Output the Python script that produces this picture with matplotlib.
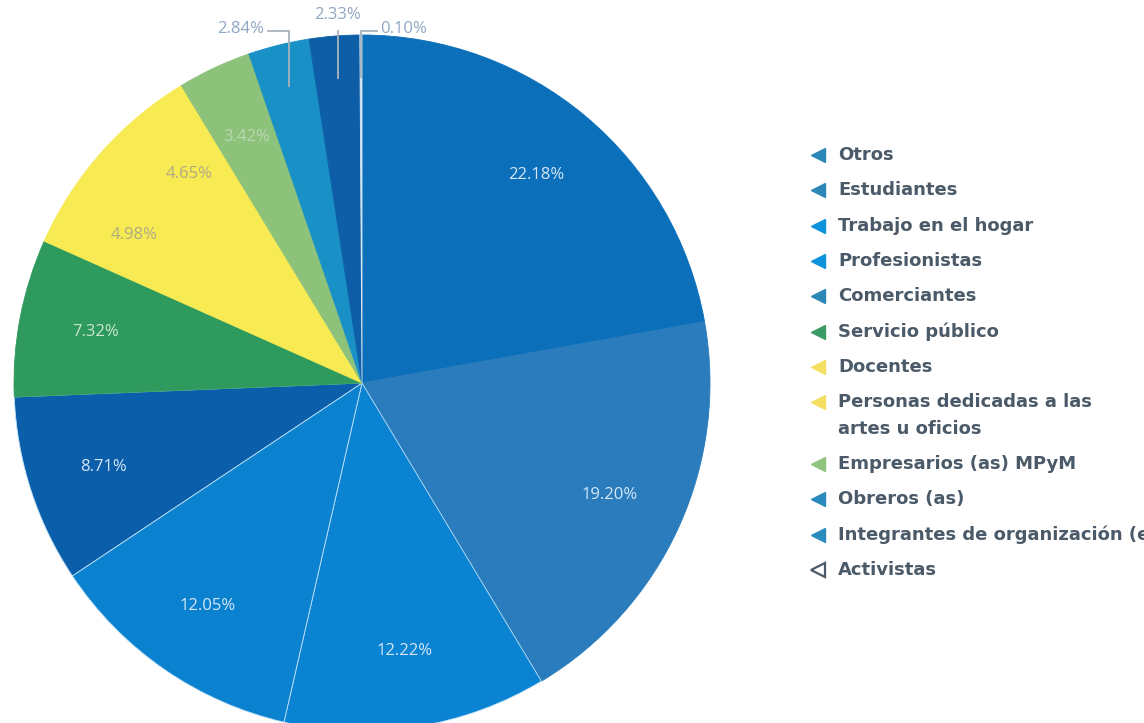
import matplotlib.pyplot as plt
import numpy as np

# Ocupación de las personas participantes (porcentaje)
categorias = ["Otros", "Estudiantes", "Trabajo en el hogar", "Profesionistas",
              "Comerciantes", "Servicio público", "Docentes",
              "Personas dedicadas a las\nartes u oficios", "Empresarios (as) MPyM",
              "Obreros (as)", "Integrantes de organización (es) civil(es)", "Activistas"]
porcentajes = [22.18, 19.20, 12.22, 12.05, 8.71, 7.32, 4.98, 4.65, 3.42, 2.84, 2.33, 0.10]

colores = ["#0b6fba", "#2a7cbc", "#0a84d2", "#0a82d0", "#0b5faa", "#2f9a5d",
           "#f8ea52", "#f8ea52", "#8dc27b", "#1990c6", "#0d5ea7", "#d5e7f5"]
bordes = ["#0b6fba", "#2a7cbc", "#bfe0f7", "#bfe0f7", "#bfe0f7", "#2f9a5d",
          "#f8ea52", "#f8ea52", "#8dc27b", "#1990c6", "#0d5ea7", "#d5e7f5"]
colores_marca = ["#2c87b6", "#2c87b6", "#0d92dc", "#0d92dc", "#2c87b6", "#3b9b67",
                 "#f4df62", "#f4df62", "#8fc47e", "#2a8cbc", "#2a8cbc", "none"]
colores_texto = ["#d4e6f6", "#d4e6f6", "#d4e6f6", "#d4e6f6", "#d4e6f6", "#c9e6d2",
                 "#aeaa84", "#aeaa84", "#bad8b2", "#8fa7c4", "#8fa7c4", "#8fa7c4"]

W, H = 1144, 723
fig = plt.figure(figsize=(W / 100, H / 100), dpi=100)
fig.patch.set_facecolor("white")

# pastel: centro (362, 383) px, radio 348 px
cx, cy, r = 362, 383, 348
ax = fig.add_axes([(cx - r) / W, (H - cy - r) / H, 2 * r / W, 2 * r / H])
wedges, _ = ax.pie(porcentajes, colors=colores, startangle=90, counterclock=False,
                   radius=1, wedgeprops=dict(linewidth=0.6))
for w, b in zip(wedges, bordes):
    w.set_edgecolor(b)
    w.set_clip_on(False)
ax.set_xlim(-1, 1)
ax.set_ylim(-1, 1)
ax.set_aspect("equal")
ax.axis("off")

fuente = "Open Sans"
for i, (w, v) in enumerate(zip(wedges, porcentajes)):
    ang = np.deg2rad((w.theta1 + w.theta2) / 2)
    etiqueta = f"{v:.2f}%"
    if v > 3:
        x, y = 0.78 * np.cos(ang), 0.78 * np.sin(ang)
        ax.text(x, y, etiqueta, ha="center", va="center", fontsize=12,
                color=colores_texto[i], family=fuente)
    else:
        # etiquetas externas con línea guía
        x0 = 0.88 * np.cos(ang)
        y0 = 0.88 * np.sin(ang)
        codo = {9: -0.06, 10: 0.0, 11: 0.045}[i]
        ytop = 1.012
        ax.plot([x0, x0, x0 + codo], [y0, ytop, ytop], color="#a9b3bd",
                lw=1.3, clip_on=False, solid_joinstyle="miter")
        if codo < 0:
            ax.text(x0 + codo - 0.01, ytop + 0.005, etiqueta, ha="right", va="center",
                    fontsize=12, color=colores_texto[i], family=fuente)
        elif codo > 0:
            ax.text(x0 + codo + 0.01, ytop + 0.005, etiqueta, ha="left", va="center",
                    fontsize=12, color=colores_texto[i], family=fuente)
        else:
            ax.text(x0, ytop + 0.045, etiqueta, ha="center", va="center",
                    fontsize=12, color=colores_texto[i], family=fuente)

# leyenda en coordenadas de píxel
lax = fig.add_axes([0, 0, 1, 1])
lax.set_xlim(0, W)
lax.set_ylim(H, 0)
lax.axis("off")
y = 155
paso, extra = 35.3, 26.5
for nombre, cm in zip(categorias, colores_marca):
    if cm == "none":
        lax.plot(818, y, marker="<", ms=10, mfc="white", mec="#4b5a68", mew=1.6)
    else:
        lax.plot(818, y, marker="<", ms=10, mfc=cm, mec=cm)
    lineas = nombre.split("\n")
    for k, ln in enumerate(lineas):
        lax.text(838, y + k * extra, ln, ha="left", va="center", fontsize=13,
                 fontweight="bold", color="#4b5a68", family="DejaVu Sans", clip_on=False)
    y += paso + extra * (len(lineas) - 1)

fig.savefig("out.png", dpi=100, facecolor="white")
